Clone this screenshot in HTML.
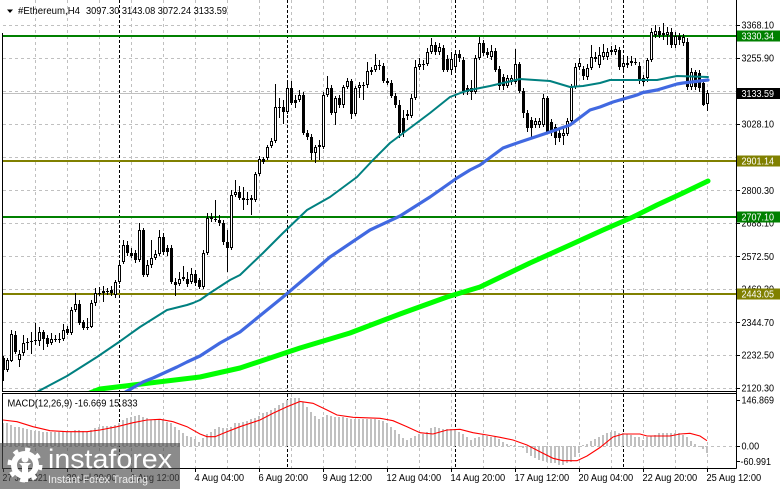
<!DOCTYPE html>
<html><head><meta charset="utf-8"><style>
html,body{margin:0;padding:0;background:#fff;width:781px;height:489px;overflow:hidden}
svg{display:block}
text{font-family:"Liberation Sans",Arial,sans-serif;font-size:10px;fill:#000}
</style></head><body>
<svg width="781" height="489" viewBox="0 0 781 489" xmlns="http://www.w3.org/2000/svg">
<defs><clipPath id="mc"><rect x="3" y="0" width="733" height="391"/></clipPath></defs>
<rect width="781" height="489" fill="#fff"/>
<!-- grid main -->
<path d="M3 25.5H736M3 58.5H736M3 91.5H736M3 124.5H736M3 157.5H736M3 190.5H736M3 223.5H736M3 256.5H736M3 289.5H736M3 322.5H736M3 355.5H736M3 388.5H736" stroke="#c0c0c0" stroke-dasharray="3 3" fill="none"/>
<path d="M35.5 0V391M67.5 0V391M99.5 0V391M131.5 0V391M163.5 0V391M195.5 0V391M227.5 0V391M259.5 0V391M291.5 0V391M323.5 0V391M355.5 0V391M387.5 0V391M419.5 0V391M451.5 0V391M483.5 0V391M515.5 0V391M547.5 0V391M579.5 0V391M611.5 0V391M643.5 0V391M675.5 0V391M707.5 0V391M35.5 394V468M67.5 394V468M99.5 394V468M131.5 394V468M163.5 394V468M195.5 394V468M227.5 394V468M259.5 394V468M291.5 394V468M323.5 394V468M355.5 394V468M387.5 394V468M419.5 394V468M451.5 394V468M483.5 394V468M515.5 394V468M547.5 394V468M579.5 394V468M611.5 394V468M643.5 394V468M675.5 394V468M707.5 394V468M3 446.5H736" stroke="#c0c0c0" stroke-dasharray="3 3" fill="none"/>
<path d="M119.5 0V391M287.5 0V391M455.5 0V391M623.5 0V391M119.5 394V468M287.5 394V468M455.5 394V468M623.5 394V468" stroke="#000" stroke-dasharray="3 2" fill="none"/>
<!-- price line -->
<path d="M3 93.5H736" stroke="#c0c0c0" fill="none"/>
<!-- horizontal levels -->
<path d="M3 36H736M3 217H736" stroke="#008000" stroke-width="2" fill="none"/>
<path d="M3 161H736M3 294H736" stroke="#808000" stroke-width="2" fill="none"/>
<!-- candles wicks -->
<path stroke="#000" fill="none" d="M3.5 356V381M7.5 358V372M11.5 330V362M15.5 331V354M19.5 350V367M23.5 335V356M27.5 338V350M31.5 332V354M35.5 323V345M39.5 327V346M43.5 330V350M47.5 335V347M51.5 333V345M55.5 335V342M59.5 333V343M63.5 324V341M67.5 326V335M71.5 307V335M75.5 293V312M79.5 300V325M83.5 320V330M87.5 318V330M91.5 300V328M95.5 288V306M99.5 287V296M103.5 286V302M107.5 288V295M111.5 286V296M115.5 280V298M119.5 262V284M123.5 240V264M127.5 241V256M131.5 248V258M135.5 250V263M139.5 223V262M143.5 228V277M147.5 260V277M151.5 240V268M155.5 250V260M159.5 230V256M163.5 233V255M167.5 245V256M171.5 245V284M175.5 278V296M179.5 272V286M183.5 266V281M187.5 272V287M191.5 268V284M195.5 270V286M199.5 278V289M203.5 250V289M207.5 213V255M211.5 213V222M215.5 200V222M219.5 215V226M223.5 220V245M227.5 230V272M231.5 190V250M235.5 180V197M239.5 186V200M243.5 187V210M247.5 192V205M251.5 195V215M255.5 172V202M259.5 156V176M263.5 157V164M267.5 145V160M271.5 138V148M275.5 84V143M279.5 98V118M283.5 100V124M287.5 82V114M291.5 81V105M295.5 95V108M299.5 90V102M303.5 92V135M307.5 130V140M311.5 134V160M315.5 145V163M319.5 140V160M323.5 92V149M327.5 76V97M331.5 85V115M335.5 96V125M339.5 95V108M343.5 85V108M347.5 78V89M351.5 79V119M355.5 86V116M359.5 82V98M363.5 82V100M367.5 62V88M371.5 67V75M375.5 54V72M379.5 60V70M383.5 63V83M387.5 78V85M391.5 80V98M395.5 93V108M399.5 100V138M403.5 110V137M407.5 110V120M411.5 94V118M415.5 60V100M419.5 58V70M423.5 60V70M427.5 48V66M431.5 38V54M435.5 42V55M439.5 43V55M443.5 45V72M447.5 55V72M451.5 52V75M455.5 50V70M459.5 50V62M463.5 57V95M467.5 85V95M471.5 80V100M475.5 55V94M479.5 37V60M483.5 40V56M487.5 48V58M491.5 45V60M495.5 48V72M499.5 66V90M503.5 74V90M507.5 75V88M511.5 75V85M515.5 49V84M519.5 62V93M523.5 88V118M527.5 110V132M531.5 117V138M535.5 118V128M539.5 118V128M543.5 94V127M547.5 96V134M551.5 119V136M555.5 124V145M559.5 128V142M563.5 128V145M567.5 118V136M571.5 84V123M575.5 63V89M579.5 58V70M583.5 66V80M587.5 64V80M591.5 45V70M595.5 52V62M599.5 47V68M603.5 44V60M607.5 48V60M611.5 46V55M615.5 45V55M619.5 47V70M623.5 58V70M627.5 56V68M631.5 56V66M635.5 58V65M639.5 62V84M643.5 75V86M647.5 58V82M651.5 28V62M655.5 25V38M659.5 27V38M663.5 23V40M667.5 27V45M671.5 28V48M675.5 32V48M679.5 33V45M683.5 34V46M687.5 38V90M691.5 68V90M695.5 70V90M699.5 70V92M703.5 82V106M707.5 90V111"/>
<!-- bodies -->
<path fill="#000" d="M2 358h3v12h-3zM6 360h3v10h-3zM10 334h3v27h-3zM14 335h3v17h-3zM18 354h3v6h-3zM22 343h3v10h-3zM26 342h3v1h-3zM30 341h3v1h-3zM34 340h3v1h-3zM38 332h3v9h-3zM42 332h3v7h-3zM46 338h3v6h-3zM50 339h3v4h-3zM54 339h3v1h-3zM58 339h3v1h-3zM62 330h3v9h-3zM66 329h3v4h-3zM70 310h3v23h-3zM74 304h3v6h-3zM78 304h3v19h-3zM82 322h3v6h-3zM86 327h3v1h-3zM90 303h3v24h-3zM94 293h3v10h-3zM98 293h3v1h-3zM102 291h3v2h-3zM106 291h3v1h-3zM110 290h3v3h-3zM114 282h3v13h-3zM118 265h3v17h-3zM122 245h3v17h-3zM126 245h3v8h-3zM130 253h3v3h-3zM134 253h3v7h-3zM138 230h3v30h-3zM142 230h3v45h-3zM146 265h3v10h-3zM150 258h3v7h-3zM154 254h3v4h-3zM158 237h3v17h-3zM162 237h3v15h-3zM166 248h3v4h-3zM170 248h3v34h-3zM174 282h3v3h-3zM178 279h3v5h-3zM182 277h3v2h-3zM186 279h3v5h-3zM190 274h3v8h-3zM194 274h3v9h-3zM198 280h3v7h-3zM202 253h3v34h-3zM206 218h3v35h-3zM210 217h3v2h-3zM214 219h3v1h-3zM218 220h3v3h-3zM222 223h3v19h-3zM226 242h3v6h-3zM230 195h3v53h-3zM234 192h3v3h-3zM238 192h3v6h-3zM242 198h3v2h-3zM246 199h3v1h-3zM250 198h3v2h-3zM254 174h3v26h-3zM258 159h3v15h-3zM262 159h3v3h-3zM266 147h3v11h-3zM270 141h3v5h-3zM274 107h3v34h-3zM278 107h3v1h-3zM282 107h3v5h-3zM286 88h3v24h-3zM290 88h3v15h-3zM294 100h3v3h-3zM298 95h3v5h-3zM302 95h3v38h-3zM306 133h3v4h-3zM310 137h3v16h-3zM314 147h3v6h-3zM318 145h3v2h-3zM322 95h3v52h-3zM326 88h3v7h-3zM330 88h3v25h-3zM334 98h3v15h-3zM338 98h3v7h-3zM342 87h3v18h-3zM346 81h3v6h-3zM350 81h3v33h-3zM354 88h3v26h-3zM358 85h3v3h-3zM362 85h3v1h-3zM366 71h3v14h-3zM370 70h3v2h-3zM374 65h3v5h-3zM378 65h3v1h-3zM382 66h3v15h-3zM386 81h3v2h-3zM390 83h3v13h-3zM394 96h3v9h-3zM398 105h3v28h-3zM402 118h3v15h-3zM406 114h3v2h-3zM410 98h3v18h-3zM414 67h3v31h-3zM418 64h3v3h-3zM422 64h3v1h-3zM426 52h3v12h-3zM430 45h3v7h-3zM434 45h3v7h-3zM438 47h3v5h-3zM442 48h3v22h-3zM446 59h3v11h-3zM450 59h3v11h-3zM454 54h3v13h-3zM458 54h3v4h-3zM462 60h3v31h-3zM466 88h3v4h-3zM470 88h3v4h-3zM474 58h3v34h-3zM478 43h3v15h-3zM482 43h3v10h-3zM486 52h3v3h-3zM490 51h3v6h-3zM494 51h3v19h-3zM498 69h3v17h-3zM502 77h3v9h-3zM506 78h3v8h-3zM510 78h3v4h-3zM514 64h3v18h-3zM518 64h3v27h-3zM522 91h3v22h-3zM526 113h3v15h-3zM530 120h3v8h-3zM534 121h3v4h-3zM538 121h3v4h-3zM542 98h3v27h-3zM546 98h3v34h-3zM550 122h3v10h-3zM554 127h3v11h-3zM558 133h3v5h-3zM562 133h3v3h-3zM566 121h3v13h-3zM570 87h3v34h-3zM574 67h3v20h-3zM578 63h3v4h-3zM582 69h3v7h-3zM586 68h3v9h-3zM590 57h3v11h-3zM594 57h3v2h-3zM598 55h3v10h-3zM602 52h3v5h-3zM606 52h3v5h-3zM610 50h3v2h-3zM614 49h3v3h-3zM618 50h3v17h-3zM622 63h3v4h-3zM626 63h3v2h-3zM630 61h3v2h-3zM634 62h3v1h-3zM638 66h3v15h-3zM642 78h3v4h-3zM646 60h3v18h-3zM650 32h3v28h-3zM654 31h3v4h-3zM658 31h3v4h-3zM662 33h3v2h-3zM666 32h3v3h-3zM670 32h3v13h-3zM674 36h3v9h-3zM678 36h3v4h-3zM682 37h3v6h-3zM686 42h3v45h-3zM690 72h3v15h-3zM694 72h3v15h-3zM698 73h3v15h-3zM702 83h3v22h-3zM706 93h3v11h-3z"/>
<path fill="#fff" d="M7 361h1v8h-1zM11 335h1v25h-1zM19 355h1v4h-1zM23 344h1v8h-1zM39 333h1v7h-1zM51 340h1v2h-1zM63 331h1v7h-1zM71 311h1v21h-1zM75 305h1v4h-1zM91 304h1v22h-1zM95 294h1v8h-1zM115 283h1v11h-1zM119 266h1v15h-1zM123 246h1v15h-1zM139 231h1v28h-1zM147 266h1v8h-1zM151 259h1v5h-1zM155 255h1v2h-1zM159 238h1v15h-1zM179 280h1v3h-1zM191 275h1v6h-1zM203 254h1v32h-1zM207 219h1v33h-1zM231 196h1v51h-1zM235 193h1v1h-1zM255 175h1v24h-1zM259 160h1v13h-1zM267 148h1v9h-1zM271 142h1v3h-1zM275 108h1v32h-1zM287 89h1v22h-1zM299 96h1v3h-1zM315 148h1v4h-1zM323 96h1v50h-1zM327 89h1v5h-1zM335 99h1v13h-1zM343 88h1v16h-1zM347 82h1v4h-1zM355 89h1v24h-1zM359 86h1v1h-1zM367 72h1v12h-1zM375 66h1v3h-1zM411 99h1v16h-1zM415 68h1v29h-1zM419 65h1v1h-1zM427 53h1v10h-1zM431 46h1v5h-1zM439 48h1v3h-1zM451 60h1v9h-1zM455 55h1v11h-1zM475 59h1v32h-1zM479 44h1v13h-1zM491 52h1v4h-1zM507 79h1v6h-1zM511 79h1v2h-1zM515 65h1v16h-1zM535 122h1v2h-1zM539 122h1v2h-1zM543 99h1v25h-1zM563 134h1v1h-1zM567 122h1v11h-1zM571 88h1v32h-1zM575 68h1v18h-1zM579 64h1v2h-1zM587 69h1v7h-1zM591 58h1v9h-1zM599 56h1v8h-1zM603 53h1v3h-1zM607 53h1v3h-1zM615 50h1v1h-1zM623 64h1v2h-1zM647 61h1v16h-1zM651 33h1v26h-1zM655 32h1v2h-1zM667 33h1v1h-1zM675 37h1v7h-1zM683 38h1v4h-1zM691 73h1v13h-1zM707 94h1v9h-1z"/>
<!-- moving averages -->
<g clip-path="url(#mc)" fill="none" stroke-linejoin="round" stroke-linecap="round">
<polyline stroke="#00ff00" stroke-width="5" points="90,393 100,389 133,385 200,377 240,368 300,348 350,333 400,314 447,297 480,287 530,263 570,245 603,230 633,217 657,205 683,193 708,181"/>
<polyline stroke="#4169e1" stroke-width="3.2" points="122,394 143,382 153,378 177,367 187,362 200,356 220,343 240,332 283,297 330,257 370,230 400,216 430,197 457,178 470,170 480,165 503,148 520,142 547,133 570,125 590,110 600,107 613,102 637,95 643,92.5 657,90 677,84 683,83 708,80"/>
<polyline stroke="#008080" stroke-width="2" points="35,393 67,376 97,357 119,342 140,327 167,310 187,305 193,303 200,300 210,293 230,280 240,275 263,253 283,233 307,210 330,197 357,177 373,160 390,143 410,128 430,113 450,97 463,92 470,90 480,88 490,86 520,79 550,81 570,87 583,86 600,83 610,80 640,80 657,80 677,76 708,77"/>
</g>
<!-- MACD histogram -->
<path fill="#c0c0c0" d="M2 423h2V446h-2zM6 423h2V446h-2zM10 425h2V446h-2zM14 427h2V446h-2zM18 427h2V446h-2zM22 428h2V446h-2zM26 429h2V446h-2zM30 430h2V446h-2zM34 431h2V446h-2zM38 431h2V446h-2zM42 432h2V446h-2zM46 432h2V446h-2zM50 432h2V446h-2zM54 432h2V446h-2zM58 432h2V446h-2zM62 432h2V446h-2zM66 432h2V446h-2zM70 432h2V446h-2zM74 430h2V446h-2zM78 430h2V446h-2zM82 431h2V446h-2zM86 432h2V446h-2zM90 430h2V446h-2zM94 428h2V446h-2zM98 427h2V446h-2zM102 426h2V446h-2zM106 426h2V446h-2zM110 426h2V446h-2zM114 425h2V446h-2zM118 423h2V446h-2zM122 420h2V446h-2zM126 418h2V446h-2zM130 417h2V446h-2zM134 416h2V446h-2zM138 415h2V446h-2zM142 417h2V446h-2zM146 418h2V446h-2zM150 420h2V446h-2zM154 419h2V446h-2zM158 419h2V446h-2zM162 420h2V446h-2zM166 422h2V446h-2zM170 423h2V446h-2zM174 427h2V446h-2zM178 430h2V446h-2zM182 433h2V446h-2zM186 436h2V446h-2zM190 437h2V446h-2zM194 439h2V446h-2zM198 442h2V446h-2zM202 438h2V446h-2zM206 434h2V446h-2zM210 432h2V446h-2zM214 429h2V446h-2zM218 427h2V446h-2zM222 428h2V446h-2zM226 428h2V446h-2zM230 427h2V446h-2zM234 423h2V446h-2zM238 423h2V446h-2zM242 422h2V446h-2zM246 421h2V446h-2zM250 419h2V446h-2zM254 418h2V446h-2zM258 416h2V446h-2zM262 413h2V446h-2zM266 412h2V446h-2zM270 410h2V446h-2zM274 408h2V446h-2zM278 405h2V446h-2zM282 403h2V446h-2zM286 400h2V446h-2zM290 398h2V446h-2zM294 398h2V446h-2zM298 398h2V446h-2zM302 402h2V446h-2zM306 407h2V446h-2zM310 412h2V446h-2zM314 416h2V446h-2zM318 419h2V446h-2zM322 417h2V446h-2zM326 415h2V446h-2zM330 416h2V446h-2zM334 417h2V446h-2zM338 417h2V446h-2zM342 417h2V446h-2zM346 418h2V446h-2zM350 419h2V446h-2zM354 419h2V446h-2zM358 419h2V446h-2zM362 419h2V446h-2zM366 419h2V446h-2zM370 419h2V446h-2zM374 419h2V446h-2zM378 420h2V446h-2zM382 421h2V446h-2zM386 423h2V446h-2zM390 427h2V446h-2zM394 430h2V446h-2zM398 434h2V446h-2zM402 438h2V446h-2zM406 440h2V446h-2zM410 438h2V446h-2zM414 436h2V446h-2zM418 434h2V446h-2zM422 434h2V446h-2zM426 432h2V446h-2zM430 428h2V446h-2zM434 427h2V446h-2zM438 428h2V446h-2zM442 429h2V446h-2zM446 429h2V446h-2zM450 429h2V446h-2zM454 430h2V446h-2zM458 432h2V446h-2zM462 434h2V446h-2zM466 437h2V446h-2zM470 440h2V446h-2zM474 438h2V446h-2zM478 437h2V446h-2zM482 435h2V446h-2zM486 436h2V446h-2zM490 437h2V446h-2zM494 437h2V446h-2zM498 439h2V446h-2zM502 442h2V446h-2zM506 444h2V446h-2zM510 445h2V446h-2zM514 445h2V446h-2zM518 447h2V446h-2zM522 448h2V446h-2zM526 453h2V446h-2zM530 456h2V446h-2zM534 458h2V446h-2zM538 460h2V446h-2zM542 461h2V446h-2zM546 462h2V446h-2zM550 463h2V446h-2zM554 463h2V446h-2zM558 465h2V446h-2zM562 465h2V446h-2zM566 463h2V446h-2zM570 462h2V446h-2zM574 457h2V446h-2zM578 453h2V446h-2zM582 445h2V446h-2zM586 444h2V446h-2zM590 441h2V446h-2zM594 439h2V446h-2zM598 437h2V446h-2zM602 435h2V446h-2zM606 433h2V446h-2zM610 432h2V446h-2zM614 431h2V446h-2zM618 433h2V446h-2zM622 433h2V446h-2zM626 434h2V446h-2zM630 435h2V446h-2zM634 437h2V446h-2zM638 437h2V446h-2zM642 440h2V446h-2zM646 437h2V446h-2zM650 436h2V446h-2zM654 435h2V446h-2zM658 433h2V446h-2zM662 433h2V446h-2zM666 433h2V446h-2zM670 433h2V446h-2zM674 433h2V446h-2zM678 433h2V446h-2zM682 435h2V446h-2zM686 437h2V446h-2zM690 441h2V446h-2zM694 444h2V446h-2zM698 447h2V446h-2zM702 449h2V446h-2zM706 453h2V446h-2z"/>
<polyline fill="none" stroke="#ff0000" stroke-width="1.1" points="3,420 17,421.7 33,426.7 50,430.7 67,431.7 87,431.7 100,430 117,426.7 133,422.7 147,420 160,419.3 173,421.7 187,426.7 200,434 207,436.7 215,436.7 227,431.7 240,426.7 260,420 273,413.3 287,406.7 300,401.5 313,403.3 327,410 337,415 353,417.3 380,418.3 393,420.7 407,426.7 420,432.7 433,434 447,430 460,429.3 473,432.7 487,435 500,437.3 513,440 527,445 540,451.7 553,458.3 563,460.7 577,460.7 587,456 600,447.5 613,437 623,434 640,434 647,436 670,436 680,434 690,433.3 700,436 707,440.7"/>
<!-- borders and axes -->
<path d="M2.5 33V391.5M2.5 393V468.5M2 391.5H736M2 393.5H736M2 468.5H736.5M736.5 0V468.5" stroke="#000" fill="none"/>
<path d="M736 25.5h4M736 58.5h4M736 91.5h4M736 124.5h4M736 157.5h4M736 190.5h4M736 223.5h4M736 256.5h4M736 289.5h4M736 322.5h4M736 355.5h4M736 388.5h4M736 400.5h4M736 446.5h4M736 461.5h4M3.5 468v4M67.5 468v4M131.5 468v4M195.5 468v4M259.5 468v4M323.5 468v4M387.5 468v4M451.5 468v4M515.5 468v4M579.5 468v4M643.5 468v4M707.5 468v4" stroke="#000" fill="none"/>
<!-- price labels -->
<g>
<text x="741.5" y="28.5" textLength="32.5" lengthAdjust="spacingAndGlyphs">3368.10</text>
<text x="741.5" y="61.5" textLength="32.5" lengthAdjust="spacingAndGlyphs">3255.90</text>
<text x="741.5" y="127.5" textLength="32.5" lengthAdjust="spacingAndGlyphs">3028.10</text>
<text x="741.5" y="194" textLength="32.5" lengthAdjust="spacingAndGlyphs">2800.30</text>
<text x="741.5" y="226.5" textLength="32.5" lengthAdjust="spacingAndGlyphs">2688.10</text>
<text x="741.5" y="260" textLength="32.5" lengthAdjust="spacingAndGlyphs">2572.50</text>
<text x="741.5" y="292.5" textLength="32.5" lengthAdjust="spacingAndGlyphs">2460.30</text>
<text x="741.5" y="326" textLength="32.5" lengthAdjust="spacingAndGlyphs">2344.70</text>
<text x="741.5" y="358.5" textLength="32.5" lengthAdjust="spacingAndGlyphs">2232.50</text>
<text x="741.5" y="391.5" textLength="32.5" lengthAdjust="spacingAndGlyphs">2120.30</text>
<text x="741.5" y="403.5" textLength="32.5" lengthAdjust="spacingAndGlyphs">146.869</text>
<text x="741.5" y="449.5" textLength="17.6" lengthAdjust="spacingAndGlyphs">0.00</text>
<text x="740.5" y="465" textLength="30.5" lengthAdjust="spacingAndGlyphs">-60.991</text>
</g>
<!-- colored level labels -->
<rect x="737" y="30.5" width="43" height="11" fill="#008000"/>
<text x="741.5" y="39.5" textLength="32.5" lengthAdjust="spacingAndGlyphs" style="fill:#fff">3330.34</text>
<rect x="737" y="88" width="43" height="11" fill="#000"/>
<text x="741.5" y="97" textLength="32.5" lengthAdjust="spacingAndGlyphs" style="fill:#fff">3133.59</text>
<rect x="737" y="155.5" width="43" height="11" fill="#808000"/>
<text x="741.5" y="164.5" textLength="32.5" lengthAdjust="spacingAndGlyphs" style="fill:#fff">2901.14</text>
<rect x="737" y="211.5" width="43" height="11" fill="#008000"/>
<text x="741.5" y="220.5" textLength="32.5" lengthAdjust="spacingAndGlyphs" style="fill:#fff">2707.10</text>
<rect x="737" y="288.5" width="43" height="11" fill="#808000"/>
<text x="741.5" y="297.5" textLength="32.5" lengthAdjust="spacingAndGlyphs" style="fill:#fff">2443.05</text>
<!-- time labels -->
<g>
<text x="2.5" y="481" textLength="45" lengthAdjust="spacingAndGlyphs">27 Jul 2021</text>
<text x="66.5" y="481" textLength="50" lengthAdjust="spacingAndGlyphs">29 Jul 20:00</text>
<text x="130.5" y="481" textLength="49" lengthAdjust="spacingAndGlyphs">1 Aug 12:00</text>
<text x="194.5" y="481" textLength="49.6" lengthAdjust="spacingAndGlyphs">4 Aug 04:00</text>
<text x="258.5" y="481" textLength="49.6" lengthAdjust="spacingAndGlyphs">6 Aug 20:00</text>
<text x="322.5" y="481" textLength="49.6" lengthAdjust="spacingAndGlyphs">9 Aug 12:00</text>
<text x="386.5" y="481" textLength="54.7" lengthAdjust="spacingAndGlyphs">12 Aug 04:00</text>
<text x="450.5" y="481" textLength="54.7" lengthAdjust="spacingAndGlyphs">14 Aug 20:00</text>
<text x="514.5" y="481" textLength="54.7" lengthAdjust="spacingAndGlyphs">17 Aug 12:00</text>
<text x="578.5" y="481" textLength="54.7" lengthAdjust="spacingAndGlyphs">20 Aug 04:00</text>
<text x="642.5" y="481" textLength="54.7" lengthAdjust="spacingAndGlyphs">22 Aug 20:00</text>
<text x="706.5" y="481" textLength="54.7" lengthAdjust="spacingAndGlyphs">25 Aug 12:00</text>
</g>
<!-- titles -->
<polygon points="7,9.5 13,9.5 10,13" fill="#000"/>
<text x="18" y="14" textLength="62" lengthAdjust="spacingAndGlyphs">#Ethereum,H4</text>
<text x="86" y="14" textLength="141" lengthAdjust="spacingAndGlyphs">3097.30 3143.08 3072.24 3133.59</text>
<text x="7.5" y="406.5" textLength="130" lengthAdjust="spacingAndGlyphs">MACD(12,26,9) -16.669 15.833</text>
<!-- watermark -->
<rect x="0" y="443" width="180" height="46" fill="#4a4a4a" fill-opacity="0.64"/>
<circle cx="25" cy="465" r="11" fill="none" stroke="#fff" stroke-width="6"/>
<circle cx="25" cy="465" r="15.5" fill="none" stroke="#fff" stroke-width="4" stroke-dasharray="5 7.17"/>
<circle cx="25" cy="459" r="3.5" fill="#fff"/>
<path d="M19 463h12l-3 3v16h-6v-16z" fill="#fff"/>
<text x="48" y="468" textLength="124" lengthAdjust="spacingAndGlyphs" style="font-size:27px;fill:#fff">instaforex</text>
<text x="48" y="483" textLength="100" lengthAdjust="spacingAndGlyphs" style="font-size:11px;fill:#eeeeee">Instant Forex Trading</text>
</svg>
</body></html>
